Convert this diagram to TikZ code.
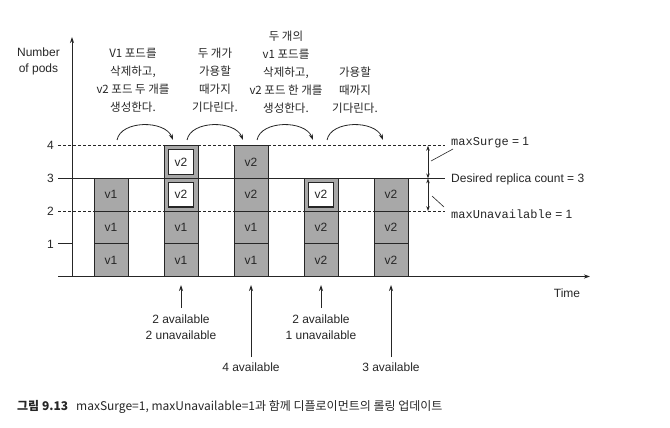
\documentclass[tikz,border=0pt]{standalone}
\usepackage{fontspec}
\setmainfont{Liberation Sans}
\setmonofont{Liberation Mono}
\newfontfamily\kr{Noto Sans CJK KR}
\usetikzlibrary{arrows.meta}
\definecolor{ink}{gray}{0.15}
\definecolor{podgray}{gray}{0.66}
\begin{document}
\begin{tikzpicture}[x=1pt,y=-1pt,
  lat/.style={font=\fontsize{12}{16}\selectfont, text=ink, inner sep=0, align=center},
  krt/.style={font=\kr\fontsize{11.5}{18}\selectfont, text=ink, inner sep=0, align=center},
  pod/.style={draw=ink, fill=podgray, line width=0.9, minimum width=34, minimum height=32.7, inner sep=0, font=\fontsize{12}{12}\selectfont, text=ink},
  newin/.style={draw=ink, fill=white, line width=1.1, minimum width=25, minimum height=24.5, inner sep=0, font=\fontsize{12}{12}\selectfont, text=ink},
  arr/.style={-{Stealth[length=6pt,width=4pt]}, line width=0.8, draw=ink},
  darr/.style={{Stealth[length=5pt,width=3.5pt]}-{Stealth[length=5pt,width=3.5pt]}, line width=0.8, draw=ink},
  lvl/.style={line width=0.9, draw=ink},
  dsh/.style={lvl, dash pattern=on 3pt off 2pt}]
\useasboundingbox (0,0) rectangle (670,428);

% axes
\coordinate (o) at (72,276.5);
\coordinate (ytop) at (72,37);
\coordinate (xl) at (58,276.5);
\coordinate (xr) at (590,276.5);
\draw[arr, line width=1] (o) -- (ytop);
\draw[arr, line width=1] (xl) -- (xr);

% levels
\coordinate (l1a) at (58,243.8);  \coordinate (l1b) at (72,243.8);
\coordinate (l2a) at (58,211.1);  \coordinate (l2b) at (445,211.1);
\coordinate (l3a) at (58,178.4);  \coordinate (l3b) at (445,178.4);
\coordinate (l4a) at (58,145.7);  \coordinate (l4b) at (445,145.7);
\draw[lvl] (l1a) -- (l1b);
\draw[dsh] (l2a) -- (l2b);
\draw[lvl] (l3a) -- (l3b);
\draw[dsh] (l4a) -- (l4b);

\node[lat, anchor=base east] (t1) at (54,248) {1};
\node[lat, anchor=base east] (t2) at (54,215.3) {2};
\node[lat, anchor=base east] (t3) at (54,182.6) {3};
\node[lat, anchor=base east] (t4) at (54,149.9) {4};

\node[lat, anchor=base] (ylab) at (38.5,73) {Number\\of pods};
\node[lat, anchor=base] (xlab) at (567,297.5) {Time};

% column 1
\node[pod] (c1a) at (111,260.15) {v1};
\node[pod] (c1b) at (111,227.45) {v1};
\node[pod] (c1c) at (111,194.75) {v1};
% column 2
\node[pod] (c2a) at (181,260.15) {v1};
\node[pod] (c2b) at (181,227.45) {v1};
\node[pod] (c2c) at (181,194.75) {};
\node[newin] (c2ci) at (181,194.75) {v2};
\node[pod] (c2d) at (181,162.05) {};
\node[newin] (c2di) at (181,162.05) {v2};
% column 3
\node[pod] (c3a) at (251,260.15) {v1};
\node[pod] (c3b) at (251,227.45) {v1};
\node[pod] (c3c) at (251,194.75) {v2};
\node[pod] (c3d) at (251,162.05) {v2};
% column 4
\node[pod] (c4a) at (321,260.15) {v2};
\node[pod] (c4b) at (321,227.45) {v2};
\node[pod] (c4c) at (321,194.75) {};
\node[newin] (c4ci) at (321,194.75) {v2};
% column 5
\node[pod] (c5a) at (391,260.15) {v2};
\node[pod] (c5b) at (391,227.45) {v2};
\node[pod] (c5c) at (391,194.75) {v2};

% right annotations
\coordinate (d4) at (428,145.7);
\coordinate (d3) at (428,178.4);
\coordinate (d2) at (428,211.1);
\draw[darr] (d4) -- (d3);
\draw[darr] (d3) -- (d2);
\node[lat, anchor=base west] (ms) at (451,146) {\texttt{maxSurge} = 1};
\node[lat, anchor=base west] (dr) at (451,182) {Desired replica count = 3};
\node[lat, anchor=base west] (mu) at (451,218.5) {\texttt{maxUnavailable} = 1};
\coordinate (ms1) at (453,149);  \coordinate (ms2) at (431,161);
\coordinate (mu1) at (444,207);  \coordinate (mu2) at (432,196);
\draw[lvl, line width=0.6] (ms1) -- (ms2);
\draw[lvl, line width=0.6] (mu1) -- (mu2);

% top texts
\node[krt, anchor=base] (k1) at (133,111.5) {V1 포드를\\삭제하고,\\v2 포드 두 개를\\생성한다.};
\node[krt, anchor=base] (k2) at (215,111.5) {두 개가\\가용할\\때가지\\기다린다.};
\node[krt, anchor=base] (k3) at (286,112.5) {두 개의\\v1 포드를\\삭제하고,\\v2 포드 한 개를\\생성한다.};
\node[krt, anchor=base] (k4) at (355,112.5) {가용할\\때까지\\기다린다.};

% curved arrows
\foreach \m [count=\i] in {145,215,285,355}{
  \coordinate (as\i) at (\m-28,140);
  \coordinate (ae\i) at (\m+28,140);
  \draw[arr] (as\i) .. controls (\m-24,120) and (\m+20,120) .. (ae\i);
}

% bottom annotations
\node[lat, anchor=base] (b2) at (181,339.5) {2 available\\2 unavailable};
\node[lat, anchor=base] (b3) at (251,371.5) {4 available};
\node[lat, anchor=base] (b4) at (321,339.5) {2 available\\1 unavailable};
\node[lat, anchor=base] (b5) at (391,371.5) {3 available};
\coordinate (p2) at (181,285);
\coordinate (p3) at (251,285);
\coordinate (p4) at (321,285);
\coordinate (p5) at (391,285);
\coordinate (q2) at (181,308);
\coordinate (q3) at (251,357);
\coordinate (q4) at (321,308);
\coordinate (q5) at (391,357);
\draw[arr] (q2) -- (p2);
\draw[arr] (q3) -- (p3);
\draw[arr] (q4) -- (p4);
\draw[arr] (q5) -- (p5);

% caption
\node[inner sep=0, anchor=base west, font=\kr\bfseries\fontsize{12}{12}\selectfont, text=ink] (capa) at (17,410) {그림 9.13};
\node[inner sep=0, anchor=base west, font=\kr\fontsize{12}{12}\selectfont, text=ink] (capb) at (76,410) {maxSurge=1, maxUnavailable=1과 함께 디플로이먼트의 롤링 업데이트};
\end{tikzpicture}
\end{document}
